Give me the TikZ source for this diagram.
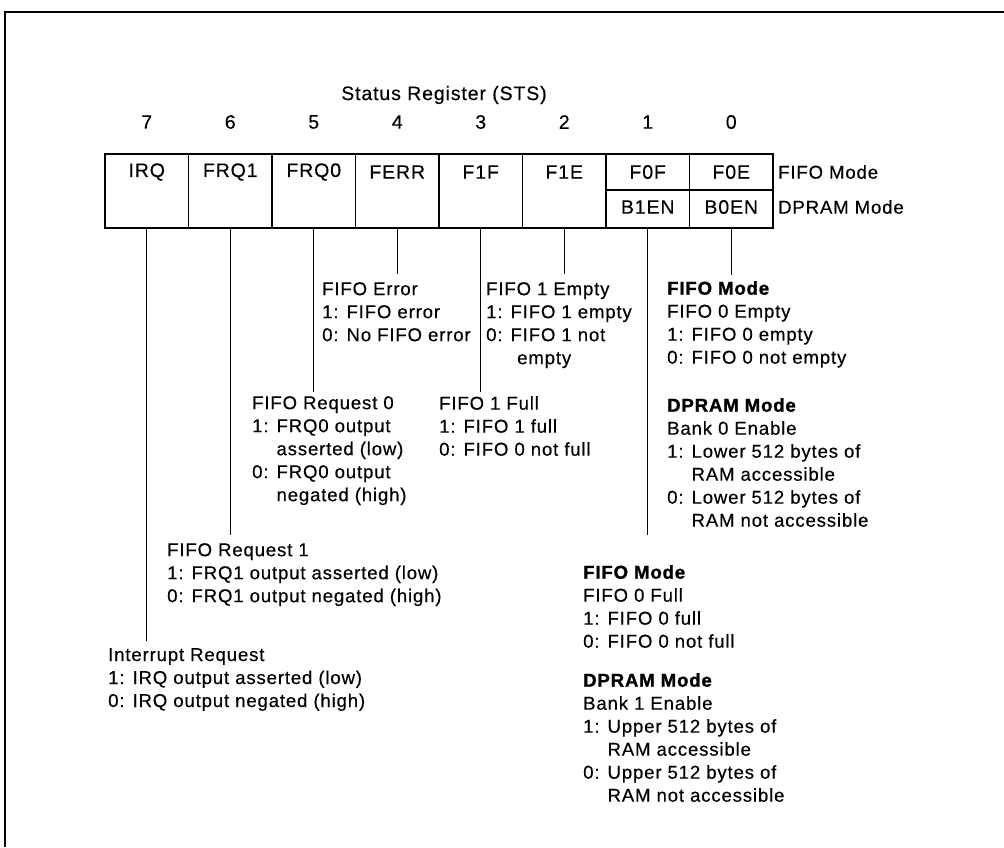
\documentclass[tikz,border=0pt]{standalone}
\usepackage{fontspec}
\setmainfont{Liberation Sans}[LetterSpace=4.5, UprightFeatures={FakeBold=0.35}, BoldFeatures={FakeBold=1.2}]
\newcommand\hdrfont{\fontsize{19.5}{23}\selectfont}
\newcommand\dscfont{\fontsize{18.6}{23}\selectfont}
\begin{document}
\begin{tikzpicture}[x=1pt,y=-1pt,
  frame/.style={line width=2.2pt},
  cellbox/.style={draw, line width=1.6pt, minimum width=83.5pt, inner sep=0},
  fullcell/.style={cellbox, minimum height=74pt},
  topcell/.style={cellbox, minimum height=36pt},
  botcell/.style={cellbox, minimum height=38pt},
  hdr/.style={inner sep=0, font=\hdrfont},
  desc/.style={anchor=north west, inner sep=0, align=left, font=\dscfont},
  lead/.style={line width=1.3pt}]
\useasboundingbox (0,0) rectangle (1004,847);
% frame
\draw[frame] (1004,12) -- (5,12) -- (5,847);
% title and bit numbers
\node[hdr] (title) at (444,95) {Status Register (STS)};
\foreach \b/\x in {7/146.75,6/230.25,5/313.75,4/397.25,3/480.75,2/564.25,1/647.75,0/731.25}
  \node[hdr] (n\b) at (\x,122) {\b};
% register cells
\node[fullcell] (c7) at (146.75,191) {};
\node[fullcell] (c6) at (230.25,191) {};
\node[fullcell] (c5) at (313.75,191) {};
\node[fullcell] (c4) at (397.25,191) {};
\node[fullcell] (c3) at (480.75,191) {};
\node[fullcell] (c2) at (564.25,191) {};
\node[topcell] (c1t) at (647.75,172) {};
\node[topcell] (c0t) at (731.25,172) {};
\node[botcell] (c1) at (647.75,209) {};
\node[botcell] (c0) at (731.25,209) {};
% cell labels
\node[hdr] (l7) at (146.75,172) {IRQ};
\node[hdr] (l6) at (230.25,172) {FRQ1};
\node[hdr] (l5) at (313.75,172) {FRQ0};
\node[hdr] (l4) at (397.25,172) {FERR};
\node[hdr] (l3) at (480.75,172) {F1F};
\node[hdr] (l2) at (564.25,172) {F1E};
\node[hdr] (l1t) at (647.75,172) {F0F};
\node[hdr] (l0t) at (731.25,172) {F0E};
\node[hdr] (l1b) at (647.75,207) {B1EN};
\node[hdr] (l0b) at (731.25,207) {B0EN};
\node[hdr, anchor=west, font=\dscfont] (mf) at (778,172) {FIFO Mode};
\node[hdr, anchor=west, font=\dscfont] (md) at (778,207) {DPRAM Mode};
% descriptions
\node[desc] (t4) at (322,282) {FIFO Error\\1: FIFO error\\0: No FIFO error};
\node[desc] (t2) at (486,282) {FIFO 1 Empty\\1: FIFO 1 empty\\0: FIFO 1 not\\\hspace*{31pt}empty};
\node[desc] (t3) at (439,396) {FIFO 1 Full\\1: FIFO 1 full\\0: FIFO 0 not full};
\node[desc] (t5) at (252,396) {FIFO Request 0\\1: FRQ0 output\\\phantom{1: }asserted (low)\\0: FRQ0 output\\\phantom{0: }negated (high)};
\node[desc] (t6) at (167,543) {FIFO Request 1\\1: FRQ1 output asserted (low)\\0: FRQ1 output negated (high)};
\node[desc] (t7) at (108,648) {Interrupt Request\\1: IRQ output asserted (low)\\0: IRQ output negated (high)};
\node[desc] (t0a) at (667,281) {\textbf{FIFO Mode}\\FIFO 0 Empty\\1: FIFO 0 empty\\0: FIFO 0 not empty};
\node[desc] (t0b) at (667,398) {\textbf{DPRAM Mode}\\Bank 0 Enable\\1: Lower 512 bytes of\\\phantom{1: }RAM accessible\\0: Lower 512 bytes of\\\phantom{0: }RAM not accessible};
\node[desc] (t1a) at (583,565) {\textbf{FIFO Mode}\\FIFO 0 Full\\1: FIFO 0 full\\0: FIFO 0 not full};
\node[desc] (t1b) at (583,673) {\textbf{DPRAM Mode}\\Bank 1 Enable\\1: Upper 512 bytes of\\\phantom{1: }RAM accessible\\0: Upper 512 bytes of\\\phantom{0: }RAM not accessible};
% leaders
\draw[lead] (c7.south) -- ([yshift=7pt]c7.south |- t7.north);
\draw[lead] (c6.south) -- ([yshift=8pt]c6.south |- t6.north);
\draw[lead] (c5.south) -- ([yshift=4pt]c5.south |- t5.north);
\draw[lead] (c4.south) -- ([yshift=8pt]c4.south |- t4.north);
\draw[lead] (c3.south) -- ([yshift=4pt]c3.south |- t3.north);
\draw[lead] (c2.south) -- ([yshift=8pt]c2.south |- t2.north);
\draw[lead] (c1.south) -- ([yshift=30pt]c1.south |- t1a.north);
\draw[lead] (c0.south) -- ([yshift=6pt]c0.south |- t0a.north);
\end{tikzpicture}
\end{document}
